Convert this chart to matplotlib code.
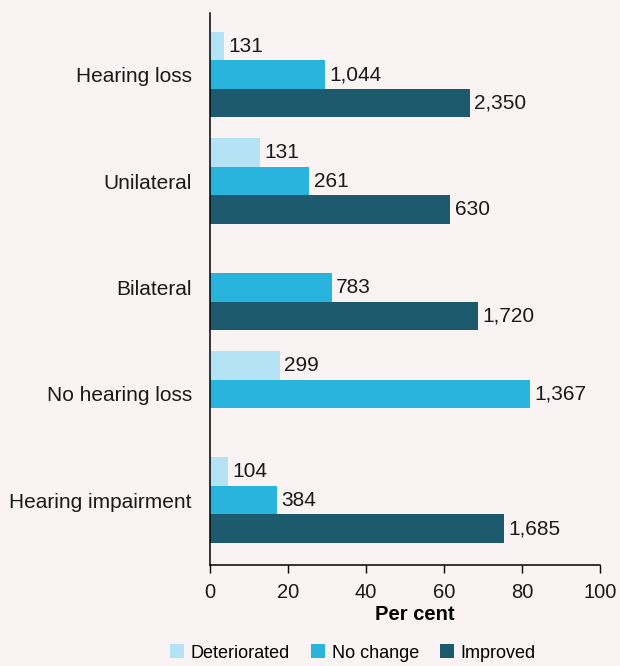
import numpy as np
import matplotlib
matplotlib.use('Agg')
import matplotlib.pyplot as plt

plt.rcParams['font.family'] = ['Liberation Sans', 'DejaVu Sans']

categories = ['Hearing loss', 'Unilateral', 'Bilateral', 'No hearing loss', 'Hearing impairment']
series = ['Deteriorated', 'No change', 'Improved']
# per cent (bar length); None = no bar
deteriorated_pct = [3.7, 12.8, None, 17.9, 4.6]
no_change_pct = [29.6, 25.5, 31.3, 82.1, 17.2]
improved_pct = [66.7, 61.6, 68.7, None, 75.4]
# counts shown as labels
deteriorated_n = ['131', '131', None, '299', '104']
no_change_n = ['1,044', '261', '783', '1,367', '384']
improved_n = ['2,350', '630', '1,720', None, '1,685']
xticks = [0, 20, 40, 60, 80, 100]

colors = ['#b3e3f5', '#29b4de', '#1e5a6d']
bg = '#f9f3f3'

fig = plt.figure(figsize=(6.2, 6.66), dpi=100, facecolor=bg)
ax = fig.add_axes([210/620, 101/666, 390/620, 552/666], facecolor=bg)

h = 0.268
y = np.arange(len(categories))
pcts = [deteriorated_pct, no_change_pct, improved_pct]
labels = [deteriorated_n, no_change_n, improved_n]
for i, (p, lab, c, name) in enumerate(zip(pcts, labels, colors, series)):
    for j in range(len(categories)):
        if p[j] is None:
            continue
        yy = y[j] + (i - 1) * h
        ax.barh(yy, p[j], height=h, color=c, label=name if j == 0 else None)
        ax.text(p[j] + 1.1, yy, lab[j], va='center', ha='left', fontsize=15, color='#1a1a1a')

ax.set_xlim(0, 100)
ax.set_ylim(len(categories) - 1 + 0.61, -0.58)
ax.set_xticks(xticks)
ax.set_yticks(y)
ax.set_yticklabels(categories)
ax.tick_params(axis='y', length=0, pad=13, labelsize=15, labelcolor='#1a1a1a')
ax.tick_params(axis='x', length=6, width=1, pad=7, labelsize=14.5, labelcolor='#1a1a1a')
for s in ['top', 'right']:
    ax.spines[s].set_visible(False)
for s in ['left', 'bottom']:
    ax.spines[s].set_linewidth(1.1)
ax.set_xlabel('Per cent', fontsize=14.5, fontweight='bold', va='center')
ax.xaxis.set_label_coords(0.526, -0.0888)

fig.legend(loc='center left', bbox_to_anchor=(170/620, 13/666), ncol=3, frameon=False,
           fontsize=13, borderpad=0, borderaxespad=0, handlelength=0.8, handleheight=0.8,
           handletextpad=0.35, columnspacing=1.15)

fig.savefig('out.png', dpi=100, facecolor=bg)
